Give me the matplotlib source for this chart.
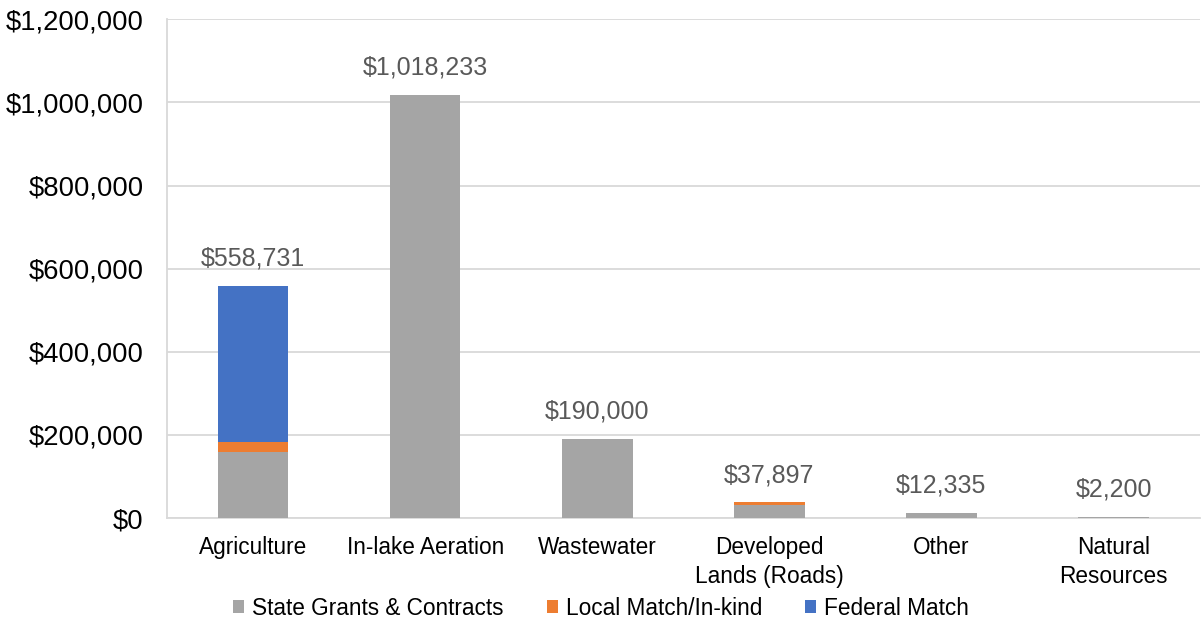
import matplotlib
matplotlib.use("Agg")
import matplotlib.pyplot as plt
import numpy as np
from matplotlib.ticker import FuncFormatter

plt.rcParams['font.family'] = ['Liberation Sans', 'DejaVu Sans']

# data
categories = ["Agriculture", "In-lake Aeration", "Wastewater",
              "Developed\nLands (Roads)", "Other", "Natural\nResources"]
state_grants = [159000, 1018233, 190000, 31000, 12335, 2200]
local_match = [24500, 0, 0, 6897, 0, 0]
federal_match = [375231, 0, 0, 0, 0, 0]
totals = [558731, 1018233, 190000, 37897, 12335, 2200]

fig = plt.figure(figsize=(12.02, 6.22), dpi=100)
ax = fig.add_axes([0.139, 0.167, 0.859, 0.802])

x = np.arange(len(categories))
w = 0.41
state = np.array(state_grants)
local = np.array(local_match)
fed = np.array(federal_match)

ax.bar(x, state, w, color='#a5a5a5', label='State Grants & Contracts', zorder=3)
ax.bar(x, local, w, bottom=state, color='#ed7d31', label='Local Match/In-kind', zorder=3)
ax.bar(x, fed, w, bottom=state + local, color='#4472c4', label='Federal Match', zorder=3)

#total labels above the bars
for xi, t in zip(x, totals):
    ax.annotate("${:,}".format(t), (xi, t), xytext=(0, 11), textcoords='offset points',
                ha='center', va='bottom', fontsize=18, color='#595959')

ax.set_ylim(0, 1200000)
ax.set_xlim(-0.5, len(categories) - 0.5)
ax.set_yticks(np.arange(0, 1200001, 200000))
ax.yaxis.set_major_formatter(FuncFormatter(lambda v, p: "${:,.0f}".format(v)))
ax.set_xticks(x)
ax.set_xticklabels(categories, fontsize=16.3, linespacing=1.3)
ax.tick_params(axis='y', labelsize=19.7, length=0, pad=17)
ax.tick_params(axis='x', length=0, pad=13)
ax.grid(axis='y', color='#d9d9d9', linewidth=1.3, zorder=0)
for s in ['top', 'right']:
    ax.spines[s].set_visible(False)
for s in ['bottom', 'left']:
    ax.spines[s].set_color('#d9d9d9')
    ax.spines[s].set_linewidth(1.3)

fig.legend(loc='center', bbox_to_anchor=(0.5, 0.0225), ncol=3, frameon=False,
           fontsize=16.3, handlelength=0.49, handleheight=0.49,
           handletextpad=0.35, columnspacing=1.9)

fig.savefig("out.png", dpi=100)
